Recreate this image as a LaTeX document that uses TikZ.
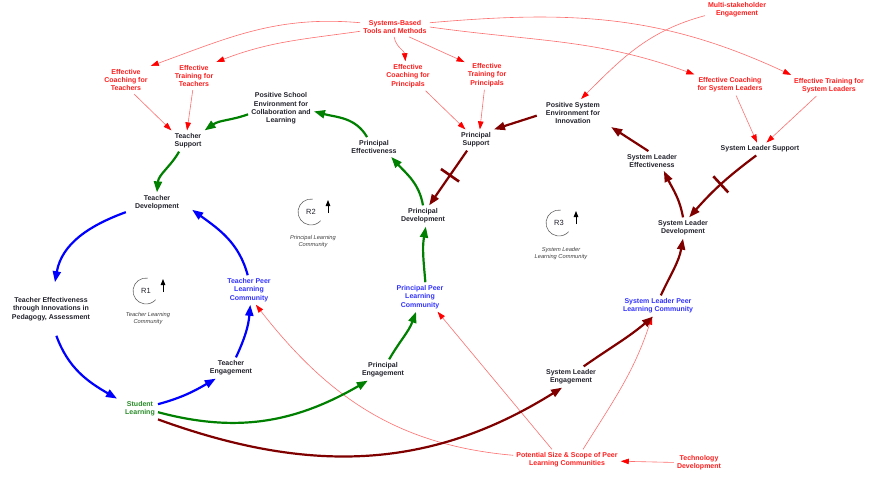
\documentclass[tikz,border=0pt]{standalone}
\usepackage{fontspec}
\setmainfont{Liberation Sans}
\usetikzlibrary{arrows.meta}
\definecolor{dred}{RGB}{128,0,0}
\definecolor{dgreen}{RGB}{0,128,0}
\definecolor{sgreen}{RGB}{40,140,40}
\definecolor{pblue}{RGB}{51,51,255}
\definecolor{lred}{RGB}{255,110,110}
\definecolor{tred}{RGB}{255,30,30}
\definecolor{vtext}{RGB}{35,35,45}
\begin{document}
\begin{tikzpicture}[x=1pt,y=1pt,
  var/.style={font=\fontsize{7}{8.3}\selectfont\bfseries, text=vtext, align=center, inner sep=3pt},
  ext/.style={var, text=tred},
  plc/.style={var, text=pblue},
  infl/.style={draw=lred, line width=0.6pt, -{Triangle[length=8pt,width=5.5pt,color=red]}},
  fat/.style={line width=2.2pt, -{Triangle[length=11pt,width=8pt]}},
  delay/.style={sloped, fill=dred, minimum width=2.6pt, minimum height=22pt, inner sep=0pt, outer sep=0pt},
  rl/.style={font=\fontsize{7.5}{9}\selectfont, text=vtext, inner sep=1pt},
  rlab/.style={font=\fontsize{5.7}{7}\selectfont\itshape, text=black!75, align=center, inner sep=1pt},
  loopc/.style={draw=black!60, line width=0.6pt},
  looparr/.style={draw=black, line width=0.8pt, -{Triangle[length=6pt,width=4.5pt]}}
]
\useasboundingbox (0,0) rectangle (870,-477);
\fill[white] (0,0) rectangle (870,-477);

% external (red) variables
\node[ext] (sbt) at (395,-27) {Systems-Based\\Tools and Methods};
\node[ext] (mse) at (737,-10) {Multi-stakeholder\\Engagement};
\node[ext] (ect) at (126,-80) {Effective\\Coaching for\\Teachers};
\node[ext] (ett) at (194,-76) {Effective\\Training for\\Teachers};
\node[ext] (ecp) at (408,-76) {Effective\\Coaching for\\Principals};
\node[ext] (etp) at (487,-75) {Effective\\Training for\\Principals};
\node[ext] (ecs) at (730,-85) {Effective Coaching\\for System Leaders};
\node[ext] (ets) at (829,-85.5) {Effective Training for\\System Leaders};
\node[ext] (pss) at (567,-460) {Potential Size \& Scope of Peer\\Learning Communities};
\node[ext] (tdev) at (699,-463) {Technology\\Development};

% main variables
\node[var] (pse) at (281,-108.5) {Positive School\\Environment for\\Collaboration and\\Learning};
\node[var] (ts) at (188,-141) {Teacher\\Support};
\node[var] (td) at (157,-203) {Teacher\\Development};
\node[var] (pe) at (374,-147) {Principal\\Effectiveness};
\node[var] (ps) at (476,-140) {Principal\\Support};
\node[var] (psy) at (573,-113) {Positive System\\Environment for\\Innovation};
\node[var] (pd) at (423,-216) {Principal\\Development};
\node[var] (sle) at (652,-161) {System Leader\\Effectiveness};
\node[var] (sls) at (760,-149) {System Leader Support};
\node[var] (sld) at (683,-228) {System Leader\\Development};
\node[var] (tei) at (51,-309) {Teacher Effectiveness\\through Innovations in\\Pedagogy, Assessment};
\node[plc] (tplc) at (249,-290) {Teacher Peer\\Learning\\Community};
\node[var] (teng) at (231,-368) {Teacher\\Engagement};
\node[var, text=sgreen] (sl) at (140,-409) {Student\\Learning};
\node[plc] (pplc) at (420,-297) {Principal Peer\\Learning\\Community};
\node[var] (peng) at (383,-370) {Principal\\Engagement};
\node[var] (sleng) at (571,-377) {System Leader\\Engagement};
\node[plc] (slplc) at (658,-306) {System Leader Peer\\Learning Community};

% loop markers
\node[rl] (r1) at (146,-291) {R1};
\node[rlab] (t1) at (148,-319) {Teacher Learning\\Community};
\node[rl] (r2) at (311,-212) {R2};
\node[rlab] (t2) at (313,-241.5) {Principal Learning\\Community};
\node[rl] (r3) at (559,-223) {R3};
\node[rlab] (t3) at (561,-253.5) {System Leader\\Learning Community};
\foreach \r in {r1,r2,r3}{
  \draw[loopc] (\r.center) ++(82:13) arc[start angle=82, end angle=318, radius=13];
  \draw[looparr] (\r.center) ++(17,-1) -- ++(0,13);
}

% red influences
\draw[infl] (sbt.173) to[out=175,in=20] (ect.north east);
\draw[infl] (sbt.187) to[out=188,in=21] (ett.north east);
\draw[infl] (sbt.-95) to[out=-80,in=95] (ecp.100);
\draw[infl] (sbt.-35) -- (etp.150);
\draw[infl] (sbt.7) to[out=5,in=155] (ets.north west);
\draw[infl] (sbt.east) to[out=-8,in=160] (ecs.north west);
\draw[infl] (mse.190) to[out=195,in=45] (psy.60);
\draw[infl] (ect.-60) -- (ts.north west);
\draw[infl] (ett.-95) -- (ts.95);
\draw[infl] (ecp.-40) -- (ps.135);
\draw[infl] (etp.-100) -- (ps.70);
\draw[infl] (ecs.-60) -- (sls.115);
\draw[infl] (ets.-140) -- (sls.45);
\draw[infl] (pss.175) to[out=175,in=-52] (tplc.-65);
\draw[infl] ([xshift=-15pt]pss.north) -- (pplc.-40);
\draw[infl] ([xshift=16pt]pss.north) to[out=58,in=252] ([xshift=-6pt]slplc.south);
\draw[infl] (tdev) -- (pss);

% green links
\draw[fat,dgreen] (pse.190) to[out=200,in=35] (ts.north east);
\draw[fat,dgreen] (ts.-130) to[out=-120,in=85] (td.north);
\draw[fat,dgreen] (pe.125) to[out=120,in=-15] (pse.-5);
\draw[fat,dgreen] (pd.north) to[out=100,in=-48] (pe.-30);
\draw[fat,dgreen] (pplc.70) to[out=95,in=-100] (pd.-75);
\draw[fat,dgreen] (peng.60) to[out=60,in=-110] (pplc.-105);
\draw[fat,dgreen] (sl.-10) to[out=-15,in=210] (peng.-145);

% blue links
\draw[fat,blue] ([xshift=-6pt]td.200) to[out=200,in=80] ([yshift=12pt]tei.75);
\draw[fat,blue] ([yshift=-12pt]tei.-70) to[out=-70,in=150] ([xshift=-5pt]sl.150);
\draw[fat,blue] (sl.15) to[out=15,in=210] (teng.-145);
\draw[fat,blue] (teng.65) to[out=65,in=-95] (tplc.-85);
\draw[fat,blue] (tplc.95) to[out=105,in=-36] ([xshift=10pt]td.-15);

% dark red links
\draw[fat,dred] (ps.-130) -- node[delay, pos=0.45] (bar1) {} (pd.60);
\draw[fat,dred] ([xshift=-6pt]psy.185) -- (ps.north east);
\draw[fat,dred] (sle.110) -- ([xshift=8pt]psy.south east);
\draw[fat,dred] (sld.north) to[out=100,in=-64] (sle.-40);
\draw[fat,dred] (sls.-120) to[bend right=6] node[delay, pos=0.5] (bar2) {} (sld.60);
\draw[fat,dred] (slplc.75) to[out=65,in=-100] (sld.south);
\draw[fat,dred] (sleng.40) to[out=35,in=220] (slplc.-115);
\draw[fat,dred] (sl.-30) to[out=-20,in=212] (sleng.-130);
\end{tikzpicture}
\end{document}
